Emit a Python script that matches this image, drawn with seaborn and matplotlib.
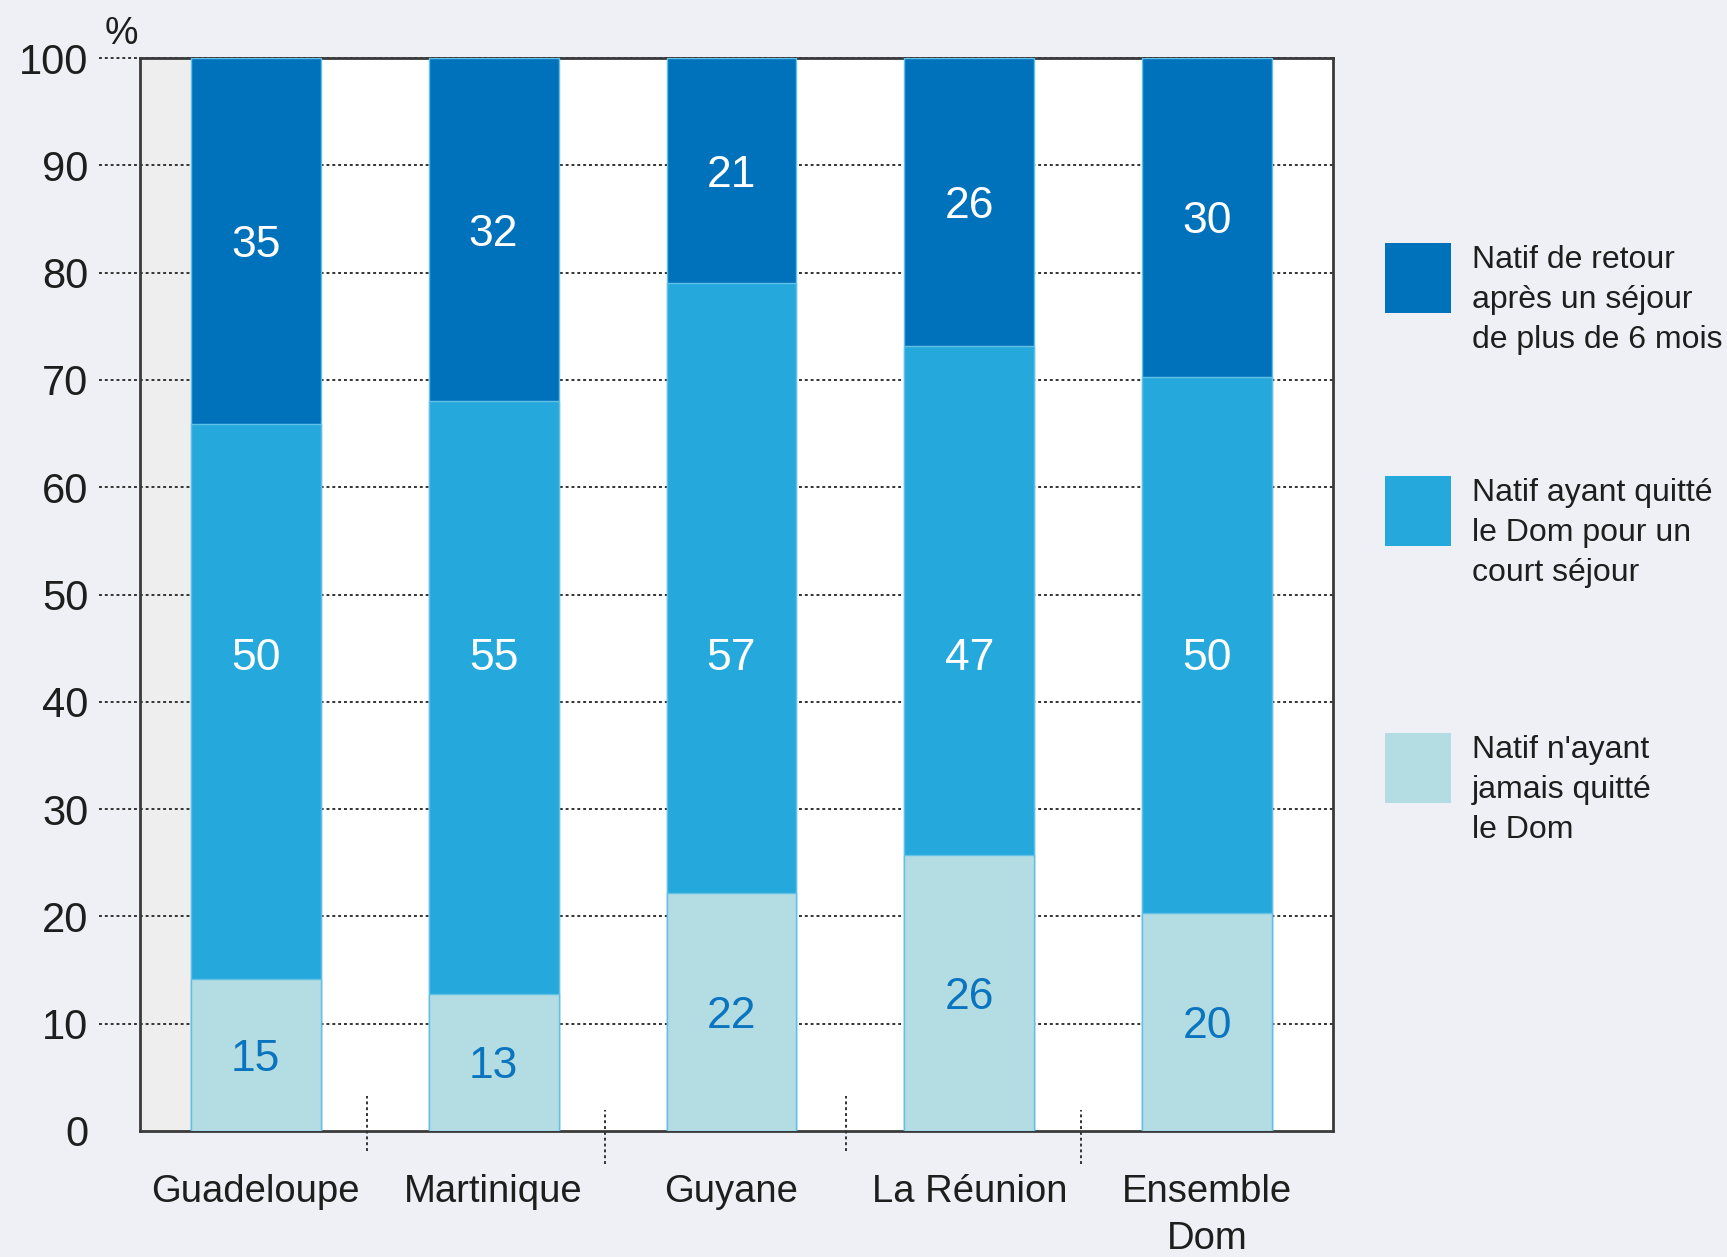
import numpy as np
import pandas as pd
import matplotlib
matplotlib.use("Agg")
import matplotlib.pyplot as plt
from matplotlib.patches import Rectangle
from matplotlib import font_manager
import seaborn as sns

# ---------------- data ----------------
categories = ["Guadeloupe", "Martinique", "Guyane", "La Réunion", "Ensemble\nDom"]
jamais_quitte = [14.2, 12.8, 22.2, 25.7, 20.3]     # Natif n'ayant jamais quitté le Dom
court_sejour = [51.7, 55.2, 56.8, 47.5, 50.0]      # Natif ayant quitté le Dom pour un court séjour
retour_long = [34.1, 32.0, 21.0, 26.8, 29.7]       # Natif de retour après un séjour > 6 mois
labels_jamais = ["15", "13", "22", "26", "20"]
labels_court = ["50", "55", "57", "47", "50"]
labels_retour = ["35", "32", "21", "26", "30"]
series_names = [
    "Natif de retour\naprès un séjour\nde plus de 6 mois",
    "Natif ayant quitté\nle Dom pour un\ncourt séjour",
    "Natif n'ayant\njamais quitté\nle Dom",
]
yticks = [0, 10, 20, 30, 40, 50, 60, 70, 80, 90, 100]

# ---------------- style ----------------
DARK = "#0072bb"
MID = "#25a9dc"
LIGHT = "#b4dde3"
EDGE = "#62c0e6"
LABEL_BLUE = "#0a74bf"
BG = "#eff0f5"
TXT = "#1e1e1e"

sns.set_theme(style="white")
fams = {f.name for f in font_manager.fontManager.ttflist}
main = "Liberation Sans Narrow" if "Liberation Sans Narrow" in fams else "Liberation Sans"
plt.rcParams["font.family"] = [main, "DejaVu Sans"]

W_PX, H_PX = 1727, 1257
fig = plt.figure(figsize=(W_PX / 100, H_PX / 100), dpi=100, facecolor=BG)
L, R, T, B = 140, 1333, 58, 1131
ax = fig.add_axes([L / W_PX, 1 - B / H_PX, (R - L) / W_PX, (B - T) / H_PX])
ax.set_facecolor("white")

df = pd.DataFrame({"cat": categories, "light": jamais_quitte,
                   "mid": court_sejour, "dark": retour_long})
df["cum2"] = df["light"] + df["mid"]
df["cum3"] = df["cum2"] + df["dark"]

BAR_W = 0.546
for col, color in [("cum3", DARK), ("cum2", MID), ("light", LIGHT)]:
    sns.barplot(data=df, x="cat", y=col, order=categories, color=color,
                saturation=1, width=BAR_W, errorbar=None, edgecolor=EDGE,
                linewidth=1.0, ax=ax, zorder=3)

x0, x1 = -0.486, 4.528
ax.set_xlim(x0, x1)
ax.set_ylim(0, 100)

# grey strip left of the first bar
ax.axvspan(x0, -BAR_W / 2, color="#eeeeee", zorder=0.3, lw=0)

# dotted gridlines (extending outside as ticks)
ax.hlines(yticks[1:], -0.0344, 1, transform=ax.get_yaxis_transform(),
          colors="#333333", linestyles=(0, (1.5, 1.5)), lw=1.4,
          clip_on=False, zorder=1)

# small dotted separators between categories
ax.vlines([0.47, 1.47, 2.48, 3.47], [-1.85, -3.1, -1.85, -3.1],
          [3.3, 1.95, 3.3, 1.95], colors="#333333",
          linestyles=(0, (1.5, 1.5)), lw=1.4, clip_on=False, zorder=4)

ax.set_yticks(yticks)
ax.set_yticklabels([str(v) for v in yticks])
ax.tick_params(axis="y", length=0, pad=37, labelsize=30, labelcolor=TXT)
ax.tick_params(axis="x", length=0, pad=31, labelsize=27.5, labelcolor=TXT)
for t in ax.get_xticklabels():
    t.set_linespacing(1.38)
ax.set_xlabel("")
ax.set_ylabel("")
for s in ax.spines.values():
    s.set_visible(True)
    s.set_color("#3a3a3a")
    s.set_linewidth(2.0)

# value labels
for i in range(len(categories)):
    lo = jamais_quitte[i]
    mid_top = lo + court_sejour[i]
    ax.text(i, lo / 2, labels_jamais[i], color=LABEL_BLUE, ha="center",
            va="center_baseline", fontsize=32, zorder=6)
    ax.text(i, 44.5, labels_court[i], color="white", ha="center",
            va="center_baseline", fontsize=32, zorder=6)
    ax.text(i, mid_top + retour_long[i] / 2, labels_retour[i], color="white",
            ha="center", va="center_baseline", fontsize=32, zorder=6)

# "%" unit
fig.text(121 / W_PX, 1 - 34 / H_PX, "%", ha="center", va="center",
         fontsize=27, color=TXT)

# legend (drawn manually)
leg_colors = [DARK, MID, LIGHT]
leg_tops = [243, 476, 733]
for name, col, top in zip(series_names, leg_colors, leg_tops):
    fig.add_artist(Rectangle((1385 / W_PX, 1 - (top + 70) / H_PX), 66 / W_PX,
                             70 / H_PX, transform=fig.transFigure,
                             facecolor=col, edgecolor="none"))
    fig.text(1472 / W_PX, 1 - (top + 2) / H_PX, name, ha="left", va="top",
             fontsize=23, color=TXT, linespacing=1.43)

fig.savefig("out.png", dpi=100, facecolor=BG)
